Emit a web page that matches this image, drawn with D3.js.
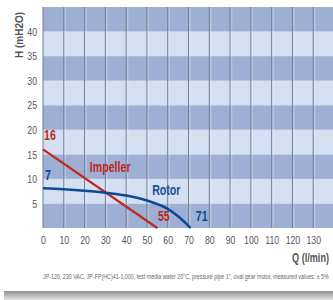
<!DOCTYPE html>
<html>
<head>
<meta charset="utf-8">
<script src="https://cdn.jsdelivr.net/npm/d3@7"></script>
<style>
  body { margin: 0; background: #fff; }
  svg { display: block; }
  text { font-family: "Liberation Sans", Arial, sans-serif; }
</style>
</head>
<body>
<svg id="chart" width="333" height="300"></svg>
<script>
// data
const xTicks = [0, 10, 20, 30, 40, 50, 60, 70, 80, 90, 100, 110, 120, 130];
const yTicks = [5, 10, 15, 20, 25, 30, 35, 40];
const bands = [0, 5, 10, 15, 20, 25, 30, 35, 40];

const impellerQ = [0, 55];
const impellerH = [16, 0];
const rotorQ = [0, 10, 20, 30, 40, 50, 60, 65, 71];
const rotorH = [8.1, 7.9, 7.6, 7.2, 6.6, 5.6, 3.9, 2.4, 0];

const footnote = 'JP-120, 230 VAC, JP-FP(HC)41-1,000, test media water 20°C, pressure pipe 1", oval gear motor, measured values: ± 5%';

const svg = d3.select('#chart');

const x = d3.scaleLinear().domain([0, 140]).range([43, 334]);
const y = d3.scaleLinear().domain([0, 45]).range([228, 7]);

// the original uses a condensed face; squeeze text horizontally
const NARROW = 0.76;
function squeeze(sel, k) {
    sel.each(function() {
        const t = d3.select(this);
        const px = +t.attr('x') || 0;
        const py = +t.attr('y') || 0;
        const prev = t.attr('transform') || '';
        t.attr('x', 0).attr('y', 0)
         .attr('transform', `${prev} translate(${px},${py}) scale(${k},1)`);
    });
}

// bottom shadow strip
const defs = svg.append('defs');
const grad = defs.append('linearGradient').attr('id', 'shade')
    .attr('x1', 0).attr('y1', 0).attr('x2', 0).attr('y2', 1);
grad.append('stop').attr('offset', '0%').attr('stop-color', '#8f8f8f');
grad.append('stop').attr('offset', '100%').attr('stop-color', '#e4e4e4');
svg.append('rect').attr('x', 4).attr('y', 291).attr('width', 329).attr('height', 9)
    .attr('fill', 'url(#shade)');

// alternating bands
svg.append('g').selectAll('rect')
    .data(bands)
    .enter().append('rect')
    .attr('x', x(0))
    .attr('y', d => y(d + 5))
    .attr('width', x(140) - x(0))
    .attr('height', d => y(d) - y(d + 5))
    .attr('fill', (d, i) => i % 2 === 0 ? '#9dafd2' : '#d4dff1');

// vertical grid lines
svg.append('g').selectAll('line')
    .data(xTicks)
    .enter().append('line')
    .attr('x1', d => x(d)).attr('x2', d => x(d))
    .attr('y1', y(45)).attr('y2', y(0))
    .attr('stroke', '#6f7f97')
    .attr('stroke-width', 1);

// faint light strips beside the grid lines
svg.append('g').selectAll('line')
    .data(xTicks.slice(1))
    .enter().append('line')
    .attr('x1', d => x(d) + 1.5).attr('x2', d => x(d) + 1.5)
    .attr('y1', y(45)).attr('y2', y(0))
    .attr('stroke', '#ffffff')
    .attr('stroke-opacity', 0.25)
    .attr('stroke-width', 1.5);

// axes (labels only)
const xAxis = svg.append('g')
    .attr('transform', `translate(0,${y(0)})`)
    .call(d3.axisBottom(x).tickValues(xTicks).tickSize(0).tickPadding(8));
xAxis.select('.domain').remove();
xAxis.selectAll('text').attr('font-size', 11.5).attr('fill', '#555')
    .attr('transform', `scale(${NARROW},1)`);

const yAxis = svg.append('g')
    .attr('transform', `translate(${x(0)},0)`)
    .call(d3.axisLeft(y).tickValues(yTicks).tickSize(0).tickPadding(6));
yAxis.select('.domain').remove();
yAxis.selectAll('text').attr('font-size', 11.5).attr('fill', '#555')
    .attr('x', -6 / NARROW)
    .attr('transform', `scale(${NARROW},1)`);

// curves
const line = d3.line().x(d => x(d[0])).y(d => y(d[1]));
svg.append('path')
    .datum(impellerQ.map((q, i) => [q, impellerH[i]]))
    .attr('d', line)
    .attr('fill', 'none')
    .attr('stroke', '#c3261c')
    .attr('stroke-width', 2.2);

svg.append('path')
    .datum(rotorQ.map((q, i) => [q, rotorH[i]]))
    .attr('d', line.curve(d3.curveMonotoneX))
    .attr('fill', 'none')
    .attr('stroke', '#0c4a97')
    .attr('stroke-width', 2.5);

// curve labels
const lbl = (txt, px, py, col, size) => svg.append('text')
    .attr('x', px).attr('y', py)
    .attr('fill', col)
    .attr('font-size', size)
    .attr('font-weight', 'bold')
    .text(txt)
    .call(squeeze, NARROW);

lbl('16', x(0) + 1, y(17.9), '#c3261c', 14);
lbl('7', x(0) + 2, y(9.7), '#0c4a97', 14);
lbl('Impeller', x(22.5), y(11.5), '#c3261c', 14);
lbl('Rotor', x(52.5), y(6.7), '#1a4f9a', 14);
lbl('55', x(55.3), y(1.4), '#c3261c', 14);
lbl('71', x(73.5), y(1.4), '#0c4a97', 14);

// axis titles
svg.append('text')
    .attr('transform', `translate(23,35) rotate(-90)`)
    .attr('text-anchor', 'middle')
    .attr('font-size', 10)
    .attr('font-weight', 'bold')
    .attr('fill', '#555')
    .text('H (mH2O)');

svg.append('text')
    .attr('x', 329).attr('y', 262)
    .attr('text-anchor', 'end')
    .attr('font-size', 12)
    .attr('font-weight', 'bold')
    .attr('fill', '#555')
    .text('Q (l/min)')
    .call(squeeze, NARROW);

// footnote squeezed to span the plot width
const note = svg.append('text')
    .attr('x', 43).attr('y', 279)
    .attr('font-size', 7.5)
    .attr('fill', '#666')
    .text(footnote);
const noteW = note.node().getComputedTextLength();
note.call(squeeze, 286 / noteW);
</script>
</body>
</html>
